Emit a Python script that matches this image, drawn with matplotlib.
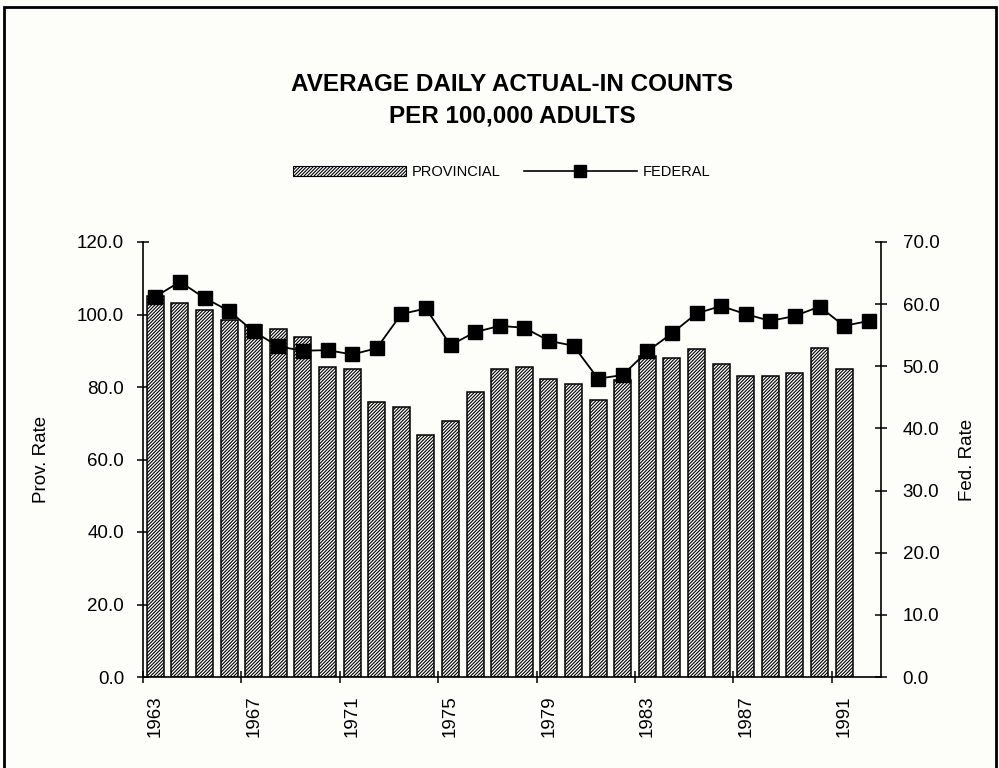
import matplotlib
matplotlib.use("Agg")
import matplotlib.pyplot as plt
from matplotlib.patches import Patch, Rectangle
from matplotlib.lines import Line2D
from matplotlib.ticker import FormatStrFormatter
import numpy as np

# Average daily actual-in counts per 100,000 adults
years = list(range(1963, 1993))
provincial = [105.0, 103.3, 101.2, 98.5, 97.0, 96.0, 93.9, 85.6, 84.9, 75.9,
              74.6, 66.8, 70.7, 78.7, 84.9, 85.4, 82.1, 80.8, 76.4, 82.0,
              88.5, 87.9, 90.4, 86.3, 83.1, 83.1, 83.8, 90.8, 84.9]  # 1963-1991
federal = [61.2, 63.6, 61.0, 58.9, 55.6, 53.2, 52.5, 52.6, 51.9, 52.9,
           58.4, 59.3, 53.4, 55.5, 56.5, 56.2, 54.1, 53.3, 48.0, 48.6,
           52.4, 55.3, 58.5, 59.7, 58.4, 57.3, 58.1, 59.6, 56.5, 57.3]  # 1963-1992
prov_ticks = [0, 20, 40, 60, 80, 100, 120]
fed_ticks = [0, 10, 20, 30, 40, 50, 60, 70]
title_lines = ["AVERAGE DAILY ACTUAL-IN COUNTS", "PER 100,000 ADULTS"]

plt.rcParams["font.family"] = ["Liberation Sans", "DejaVu Sans"]
plt.rcParams["hatch.linewidth"] = 0.8
plt.rcParams["hatch.color"] = "#222222"

HATCH = "//////////"
BG = "#fdfdfa"
fig = plt.figure(figsize=(9.99, 7.68), dpi=100, facecolor=BG)
ax = fig.add_axes([143 / 999, 1 - 677 / 768, 738 / 999, 435 / 768])
ax.set_facecolor("none")

x = np.arange(len(years))
ax.bar(x[:len(provincial)], provincial, width=0.69, facecolor="white",
       edgecolor="black", hatch=HATCH, linewidth=1.1, zorder=2)
ax.set_xlim(-0.5, len(years) - 0.5)
ax.set_ylim(0, 120)

ax2 = ax.twinx()
ax2.plot(x, federal, color="black", lw=1.3, marker="s", ms=10.5,
         mfc="black", mec="black", zorder=3)
ax2.set_ylim(0, 70)

for a in (ax, ax2):
    a.spines["top"].set_visible(False)
    for s in a.spines.values():
        s.set_linewidth(1.2)
ax.spines["right"].set_visible(False)
ax2.spines["left"].set_visible(False)
ax2.spines["bottom"].set_visible(False)

ax.set_yticks(prov_ticks)
ax.yaxis.set_major_formatter(FormatStrFormatter("%.1f"))
ax.tick_params(axis="y", direction="inout", length=9, width=1.1, pad=9,
               labelsize=13.5)
ax2.set_yticks(fed_ticks)
ax2.yaxis.set_major_formatter(FormatStrFormatter("%.1f"))
ax2.tick_params(axis="y", direction="inout", length=9, width=1.1, pad=11,
                labelsize=13.5)

ax.set_xticks(x[::4])
ax.set_xticklabels([str(y) for y in years[::4]], rotation=90)
ax.tick_params(axis="x", which="major", length=0, pad=13, labelsize=13.5)
ax.set_xticks(np.arange(-0.5, len(years) - 1, 4), minor=True)
ax.tick_params(axis="x", which="minor", direction="inout", length=9, width=1.1)

ax.set_ylabel("Prov. Rate", fontsize=13.5)
ax.yaxis.set_label_coords(-0.126, 0.5)
ax2.set_ylabel("Fed. Rate", fontsize=13.5)
ax2.yaxis.set_label_coords(1.106, 0.5)

fig.text(0.5125, 1 - 91 / 768, title_lines[0], ha="center", va="baseline",
         fontsize=17.5, fontweight="bold")
fig.text(0.5125, 1 - 122 / 768, title_lines[1], ha="center", va="baseline",
         fontsize=17.5, fontweight="bold")

handles = [Patch(facecolor="white", edgecolor="black", hatch=HATCH, linewidth=0.8),
           Line2D([], [], color="black", lw=1.2, marker="s", ms=9)]
fig.legend(handles, ["PROVINCIAL", "FEDERAL"], loc="center",
           bbox_to_anchor=(0.5025, 1 - 172 / 768), ncol=2, frameon=False,
           fontsize=10.5, handlelength=7.7, handleheight=0.75,
           handletextpad=0.45, columnspacing=1.6)

fig.add_artist(Rectangle((0.004, -0.05), 0.993, 0.9913 + 0.05,
                         transform=fig.transFigure, fill=False,
                         edgecolor="black", linewidth=2.0))

fig.savefig("out.png", dpi=100, facecolor=BG)
